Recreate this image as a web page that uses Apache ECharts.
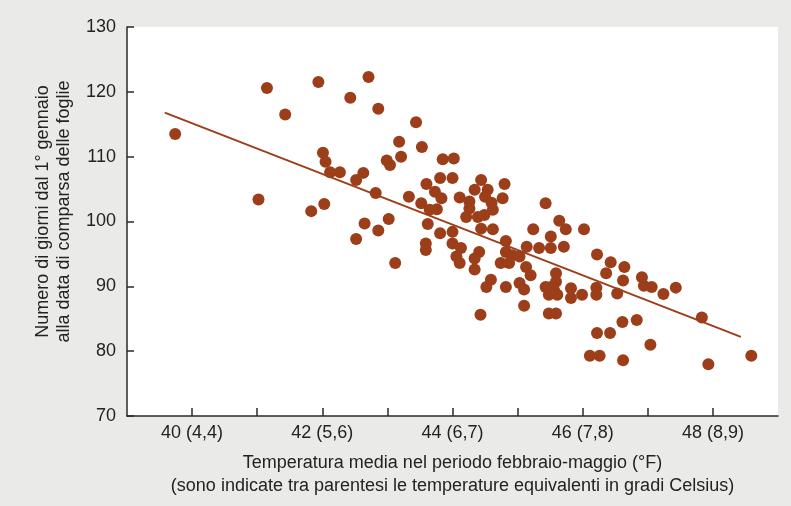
<!DOCTYPE html>
<html>
<head>
<meta charset="utf-8">
<title>Temperatura e comparsa delle foglie</title>
<script src="https://cdn.jsdelivr.net/npm/echarts@6/dist/echarts.min.js"></script>
<style>
  html, body { margin: 0; padding: 0; background: #eaeae8; }
  #chart { width: 791px; height: 506px; }
</style>
</head>
<body>
<div id="chart"></div>
<script>
// temperatura media feb-mag (°F) e giorni dal 1° gennaio
const tempF = [
  39.74, 41.15, 41.43, 41.94, 42.71, 42.43, 42.86, 43.44, 43.18, 43.53,
  43.21, 42.99, 43.04, 43.85, 44.02, 42.01, 42.05, 42.12, 42.27, 42.52,
  42.63, 42.82, 43.60, 43.81, 44.00, 43.73, 43.83, 43.33, 43.52, 43.65,
  43.76, 41.02, 41.83, 42.03, 42.65, 43.02, 42.86, 42.52, 43.12, 43.62,
  43.81, 43.59, 43.59, 44.00, 44.44, 44.11, 44.34, 44.54, 44.50, 44.60,
  44.62, 44.77, 44.80, 44.26, 44.26, 44.21, 44.39, 44.49, 44.44, 44.62,
  44.00, 44.13, 44.06, 44.11, 44.41, 44.34, 44.34, 44.59, 44.52, 44.43,
  45.43, 45.64, 45.74, 45.24, 46.02, 45.51, 44.82, 45.51, 45.33, 45.71,
  45.14, 44.82, 44.92, 45.03, 44.74, 44.87, 45.13, 45.20, 44.82, 45.03,
  45.10, 45.59, 45.59, 45.51, 45.56, 45.43, 45.48, 45.61, 45.82, 45.82,
  45.99, 45.10, 45.48, 45.59, 46.21, 46.21, 46.53, 46.22, 46.43, 46.36,
  46.64, 46.62, 46.91, 46.94, 47.06, 47.24, 47.43, 46.61, 46.83, 46.22,
  46.42, 46.11, 46.26, 46.62, 47.04, 47.83, 47.93, 48.59
];
const giorni = [
  113.5, 120.6, 116.5, 121.5, 122.3, 119.1, 117.4, 115.3, 112.3, 111.5,
  110.0, 109.4, 108.7, 109.6, 109.7, 110.6, 109.2, 107.6, 107.6, 106.4,
  107.5, 104.4, 105.8, 106.7, 106.7, 104.6, 103.6, 103.8, 102.8, 101.8,
  101.9, 103.4, 101.6, 102.7, 99.7, 100.4, 98.6, 97.3, 93.6, 99.6,
  98.2, 96.6, 95.6, 98.4, 106.4, 103.7, 104.9, 104.9, 103.8, 102.9,
  101.8, 103.6, 105.8, 103.1, 102.0, 100.7, 100.7, 101.0, 98.9, 98.8,
  96.6, 95.9, 94.6, 93.6, 95.3, 94.3, 92.6, 91.0, 89.9, 85.6,
  102.8, 100.1, 98.8, 98.8, 98.8, 97.7, 97.0, 95.9, 95.9, 96.1,
  96.1, 95.3, 94.8, 94.6, 93.6, 93.6, 93.0, 91.7, 89.9, 90.5,
  89.5, 92.0, 90.7, 89.9, 89.4, 89.9, 88.7, 88.7, 89.7, 88.2,
  88.7, 87.0, 85.8, 85.8, 89.8, 88.7, 88.9, 94.9, 93.7, 92.0,
  93.0, 90.9, 91.4, 90.1, 89.9, 88.8, 89.8, 84.5, 84.8, 82.8,
  82.8, 79.3, 79.3, 78.6, 81.0, 85.2, 78.0, 79.3
];

// retta di regressione (estremi)
const lineaX = [39.58, 48.43];
const lineaY = [116.8, 82.2];

// tacche ed etichette dell'asse x
const tacche = [40, 41, 42, 43, 44, 45, 46, 47, 48];
const tickF = [40, 42, 44, 46, 48];
const tickC = ['4,4', '5,6', '6,7', '7,8', '8,9'];

const colore = '#9c3e19';
const testo = '#232323';
const font = 'Liberation Sans, Arial, Helvetica, sans-serif';

const chart = echarts.init(document.getElementById('chart'));

chart.setOption({
  animation: false,
  backgroundColor: '#eaeae8',
  grid: {
    left: 127, right: 13, top: 27, bottom: 90,
    show: true, backgroundColor: '#ffffff', borderWidth: 0,
    outerBoundsMode: 'none'
  },
  xAxis: {
    type: 'value',
    min: 39, max: 49, interval: 1,
    splitLine: { show: false },
    axisLine: { show: true, onZero: false, lineStyle: { color: '#2a2a2a', width: 1.5 } },
    axisTick: {
      show: true, inside: true, length: 8, customValues: tacche,
      lineStyle: { color: '#2a2a2a', width: 1.5 }
    },
    axisLabel: {
      margin: 8, color: testo, fontSize: 18, fontFamily: font,
      customValues: tickF,
      formatter: (v) => {
        const i = tickF.indexOf(v);
        return i >= 0 ? `${v} (${tickC[i]})` : '';
      }
    },
    name: 'Temperatura media nel periodo febbraio-maggio (°F)\n(sono indicate tra parentesi le temperature equivalenti in gradi Celsius)',
    nameLocation: 'middle',
    nameGap: 36,
    nameTextStyle: { color: testo, fontSize: 18, fontFamily: font, lineHeight: 23 }
  },
  yAxis: {
    type: 'value',
    min: 70, max: 130, interval: 10,
    splitLine: { show: false },
    axisLine: { show: true, onZero: false, lineStyle: { color: '#2a2a2a', width: 1.5 } },
    axisTick: { show: true, inside: true, length: 7, lineStyle: { color: '#2a2a2a', width: 1.5 } },
    axisLabel: { margin: 11, color: testo, fontSize: 18, fontFamily: font },
    name: 'Numero di giorni dal 1° gennaio\nalla data di comparsa delle foglie',
    nameLocation: 'middle',
    nameRotate: 90,
    nameGap: 52,
    nameTextStyle: { color: testo, fontSize: 18, fontFamily: font, lineHeight: 21, padding: [0, 0, 0, 20] }
  },
  series: [
    {
      type: 'line',
      data: lineaX.map((x, i) => [x, lineaY[i]]),
      showSymbol: false,
      lineStyle: { color: colore, width: 2 },
      z: 3
    },
    {
      type: 'scatter',
      data: tempF.map((x, i) => [x, giorni[i]]),
      symbolSize: 12,
      itemStyle: { color: colore, opacity: 1 },
      z: 2
    }
  ]
});
</script>
</body>
</html>
